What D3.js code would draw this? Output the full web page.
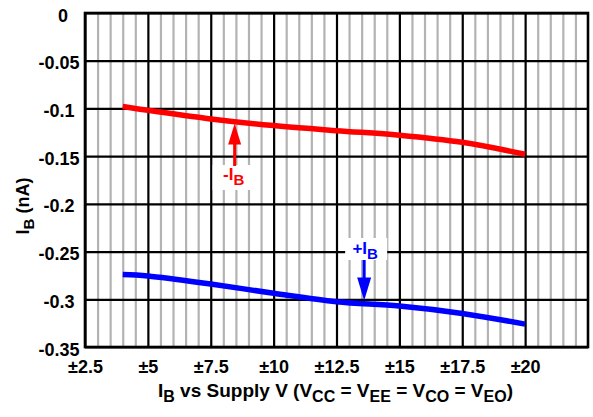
<!DOCTYPE html>
<html>
<head>
<meta charset="utf-8">
<script src="https://cdn.jsdelivr.net/npm/d3@7"></script>
<style>
  html, body { margin: 0; padding: 0; background: #fff; }
  svg { display: block; }
  text { font-family: "Liberation Sans", Arial, Helvetica, sans-serif; font-weight: bold; }
</style>
</head>
<body>
<svg id="chart" width="593" height="417"></svg>
<script>
// Supply voltage (±V) and input bias currents (nA)
const supplyV = [4, 5, 7.5, 10, 12.5, 15, 17.5, 20];
const negIB   = [-0.098, -0.102, -0.111, -0.118, -0.1233, -0.128, -0.1355, -0.148];
const posIB   = [-0.274, -0.2755, -0.284, -0.2937, -0.3025, -0.307, -0.3148, -0.326];

const xTicks = [2.5, 5, 7.5, 10, 12.5, 15, 17.5, 20];
const xTickLabels = ["±2.5", "±5", "±7.5", "±10", "±12.5", "±15", "±17.5", "±20"];
const yTicks = [0, -0.05, -0.1, -0.15, -0.2, -0.25, -0.3, -0.35];
const yTickLabels = ["0", "-0.05", "-0.1", "-0.15", "-0.2", "-0.25", "-0.3", "-0.35"];

const plot = { left: 85, right: 588, top: 13, bottom: 347 };
const svg = d3.select("#chart");

const x = d3.scaleLinear().domain([2.5, 22.5]).range([plot.left, plot.right]);
const y = d3.scaleLinear().domain([0, -0.35]).range([plot.top, plot.bottom]);

// minor vertical grid every 0.5 V
const minor = d3.range(2.5, 22.5001, 0.5).filter(v => Math.abs((v / 2.5) - Math.round(v / 2.5)) > 1e-6);
svg.append("g")
  .call(d3.axisBottom(x).tickValues(minor).tickSize(-(plot.bottom - plot.top)).tickFormat(""))
  .attr("transform", `translate(0,${plot.bottom})`)
  .call(g => g.select(".domain").remove())
  .call(g => g.selectAll("line").attr("stroke", "#b3b3b3").attr("stroke-width", 2.2));

// major vertical grid + x tick labels
svg.append("g")
  .attr("transform", `translate(0,${plot.bottom})`)
  .call(d3.axisBottom(x).tickValues(xTicks).tickSize(-(plot.bottom - plot.top))
        .tickFormat((d, i) => xTickLabels[i]).tickPadding(13))
  .call(g => g.select(".domain").remove())
  .call(g => g.selectAll("line").attr("stroke", "#000").attr("stroke-width", 2.2))
  .call(g => g.selectAll("text").attr("font-size", 18).attr("fill", "#000")
              .attr("font-family", "Liberation Sans, Arial, sans-serif").attr("font-weight", "bold"));

// horizontal grid + y tick labels
svg.append("g")
  .attr("transform", `translate(${plot.left},0)`)
  .call(d3.axisLeft(y).tickValues(yTicks).tickSize(-(plot.right - plot.left))
        .tickFormat((d, i) => yTickLabels[i]).tickPadding(0))
  .call(g => g.select(".domain").remove())
  .call(g => g.selectAll("line").attr("stroke", "#000").attr("stroke-width", 2.2))
  .call(g => g.selectAll("text").attr("font-size", 18).attr("fill", "#000")
              .attr("text-anchor", "middle").attr("x", d => d === 0 ? -22 : -26).attr("dy", "0.45em")
              .attr("font-family", "Liberation Sans, Arial, sans-serif").attr("font-weight", "bold"));

// frame
svg.append("rect")
  .attr("x", plot.left).attr("y", plot.top)
  .attr("width", plot.right - plot.left).attr("height", plot.bottom - plot.top)
  .attr("fill", "none").attr("stroke", "#000").attr("stroke-width", 2.6);

// curves
const line = d3.line().x(d => x(d[0])).y(d => y(d[1])).curve(d3.curveCatmullRom.alpha(0.5));
svg.append("path").datum(supplyV.map((v, i) => [v, negIB[i]]))
  .attr("d", line).attr("fill", "none").attr("stroke", "#ff0000").attr("stroke-width", 5.5);
svg.append("path").datum(supplyV.map((v, i) => [v, posIB[i]]))
  .attr("d", line).attr("fill", "none").attr("stroke", "#0000ff").attr("stroke-width", 5.5);

// linear lookup along a series, used to seat the arrow tips on the curves
const interp = (xs, ys, v) => {
  for (let i = 0; i < xs.length - 1; i++) {
    if (v >= xs[i] && v <= xs[i + 1]) {
      const t = (v - xs[i]) / (xs[i + 1] - xs[i]);
      return ys[i] + t * (ys[i + 1] - ys[i]);
    }
  }
  return ys[ys.length - 1];
};

function labelBox(cx, top, w, h) {
  svg.append("rect").attr("x", cx - w / 2).attr("y", top).attr("width", w).attr("height", h).attr("fill", "#fff");
}

function subLabel(xPos, yPos, prefix, color) {
  const t = svg.append("text").attr("x", xPos).attr("y", yPos).attr("fill", color)
    .attr("font-size", 17).attr("text-anchor", "middle");
  t.append("tspan").text(prefix + "I");
  t.append("tspan").attr("dy", 5).attr("font-size", 15).text("B");
}

// -IB: arrow pointing up to the red curve
const negX = 8.45;
const negTip = y(interp(supplyV, negIB, negX)) + 2;
const nx = x(negX);
labelBox(nx - 1, 165, 42, 25);
svg.append("line").attr("x1", nx).attr("x2", nx).attr("y1", negTip + 18).attr("y2", 166)
  .attr("stroke", "#ff0000").attr("stroke-width", 3);
svg.append("path")
  .attr("d", `M${nx},${negTip} L${nx - 6.5},${negTip + 21} L${nx + 6.5},${negTip + 21} Z`)
  .attr("fill", "#ff0000");
subLabel(nx - 1, 180, "-", "#ff0000");

// +IB: arrow pointing down to the blue curve
const posX = 13.6;
const posTip = y(interp(supplyV, posIB, posX)) - 3;
const px = x(posX);
labelBox(px + 2, 238, 42, 22);
svg.append("line").attr("x1", px).attr("x2", px).attr("y1", 260).attr("y2", posTip - 20)
  .attr("stroke", "#0000ff").attr("stroke-width", 3);
svg.append("path")
  .attr("d", `M${px},${posTip} L${px - 7},${posTip - 23} L${px + 7},${posTip - 23} Z`)
  .attr("fill", "#0000ff");
subLabel(px + 1, 254, "+", "#0000ff");

// axis titles
const xt = svg.append("text").attr("x", (plot.left + plot.right) / 2 - 1).attr("y", 397)
  .attr("text-anchor", "middle").attr("font-size", 19).attr("fill", "#000");
const parts = [["I", false], ["B", true], [" vs Supply V (V", false], ["CC", true], [" = V", false],
               ["EE", true], [" = V", false], ["CO", true], [" = V", false], ["EO", true], [")", false]];
let low = false;
parts.forEach(([s, sub]) => {
  const ts = xt.append("tspan").text(s);
  if (sub && !low) { ts.attr("dy", 5).attr("font-size", 16); low = true; }
  else if (!sub && low) { ts.attr("dy", -5); low = false; }
});

const yt = svg.append("text").attr("transform", "translate(29,206) rotate(-90)")
  .attr("text-anchor", "middle").attr("font-size", 18).attr("fill", "#000");
yt.append("tspan").text("I");
yt.append("tspan").attr("dy", 5).attr("font-size", 15).text("B");
yt.append("tspan").attr("dy", -5).text(" (nA)");
</script>
</body>
</html>
